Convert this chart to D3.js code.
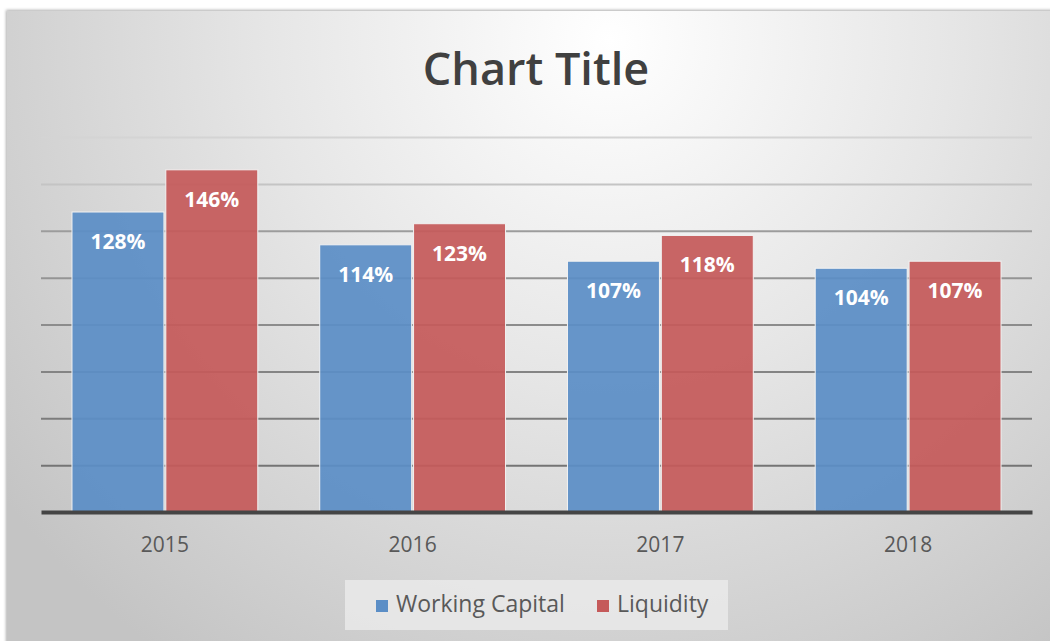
<!DOCTYPE html>
<html>
<head>
<meta charset="utf-8">
<script src="https://d3js.org/d3.v7.min.js"></script>
<style>
  body { margin: 0; background: #fff; }
  svg { display: block; }
</style>
</head>
<body>
<svg width="1050" height="641" id="chart"></svg>
<script>

// chart values
var years = ["2015", "2016", "2017", "2018"];
var seriesNames = ["Working Capital", "Liquidity"];
var workingCapital = [128, 114, 107, 104];
var liquidity = [146, 123, 118, 107];
var gridTicks = [0, 20, 40, 60, 80, 100, 120, 140, 160];

var colors = ["#5b8ec6", "#c55a5a"];

var svg = d3.select("#chart"),
    margin = {top: 137, right: 18, bottom: 129, left: 41},
    width = +svg.attr("width") - margin.left - margin.right,
    height = +svg.attr("height") - margin.top - margin.bottom;

var defs = svg.append("defs");

var bg = defs.append("radialGradient")
    .attr("id", "bg")
    .attr("gradientUnits", "userSpaceOnUse")
    .attr("cx", 610).attr("cy", 40).attr("r", 760);
bg.append("stop").attr("offset", "0%").attr("stop-color", "#ffffff");
bg.append("stop").attr("offset", "45%").attr("stop-color", "#e6e6e6");
bg.append("stop").attr("offset", "100%").attr("stop-color", "#c4c4c4");

var shadow = defs.append("filter").attr("id", "shadow")
    .attr("x", "-5%").attr("y", "-5%").attr("width", "110%").attr("height", "110%");
shadow.append("feDropShadow").attr("dx", -1).attr("dy", -1)
    .attr("stdDeviation", 1.5).attr("flood-color", "#999").attr("flood-opacity", 0.8);

// chart area
svg.append("rect")
    .attr("x", 7).attr("y", 11)
    .attr("width", 1050).attr("height", 641)
    .attr("fill", "url(#bg)")
    .attr("filter", "url(#shadow)");

svg.append("text")
    .attr("x", 536).attr("y", 85)
    .attr("text-anchor", "middle")
    .attr("font-family", "'Open Sans', sans-serif")
    .attr("font-weight", 600)
    .attr("font-size", 45)
    .attr("fill", "#404040")
    .text("Chart Title");

var g = svg.append("g").attr("transform", "translate(" + margin.left + "," + margin.top + ")");

var x0 = d3.scaleBand().domain(years).range([0, width]).paddingInner(0.25).paddingOuter(0.125);
var x1 = d3.scaleBand().domain(seriesNames).range([0, x0.bandwidth()]).paddingInner(0.02);
var y = d3.scaleLinear().domain([0, 160]).range([height, 0]);

// gridlines fade lighter toward the top
var gridColor = d3.scaleLinear()
    .domain([160, 140, 120, 20])
    .range(["#d4d4d4", "#c4c4c4", "#9c9c9c", "#747474"]);

g.append("g")
    .call(d3.axisLeft(y).tickValues(gridTicks.slice(1)).tickSize(-width).tickFormat(""))
    .call(function(s) { s.select(".domain").remove(); })
    .selectAll(".tick line")
    .attr("stroke", function(d) { return gridColor(d); })
    .attr("stroke-width", 2);

var rows = years.map(function(yr, i) {
  return {year: yr, values: [workingCapital[i], liquidity[i]]};
});

var groups = g.selectAll(".grp").data(rows).enter().append("g")
    .attr("transform", function(d) { return "translate(" + x0(d.year) + ",0)"; });

groups.selectAll("rect")
    .data(function(d) { return d.values.map(function(v, j) { return {name: seriesNames[j], value: v, j: j}; }); })
    .enter().append("rect")
    .attr("x", function(d) { return x1(d.name); })
    .attr("y", function(d) { return y(d.value); })
    .attr("width", x1.bandwidth())
    .attr("height", function(d) { return height - y(d.value); })
    .attr("fill", function(d) { return colors[d.j]; })
    .attr("fill-opacity", 0.93)
    .attr("stroke", "#f2f2f2")
    .attr("stroke-width", 1);

groups.selectAll("text")
    .data(function(d) { return d.values.map(function(v, j) { return {name: seriesNames[j], value: v}; }); })
    .enter().append("text")
    .attr("x", function(d) { return x1(d.name) + x1.bandwidth() / 2; })
    .attr("y", function(d) { return y(d.value) + 37; })
    .attr("text-anchor", "middle")
    .attr("font-family", "'Open Sans', sans-serif")
    .attr("font-weight", "bold")
    .attr("font-size", 21)
    .attr("fill", "#ffffff")
    .text(function(d) { return d.value + "%"; });

// baseline + year labels
var xAxis = g.append("g")
    .attr("transform", "translate(0," + height + ")")
    .call(d3.axisBottom(x0).tickSize(0).tickPadding(25));
xAxis.select(".domain").attr("stroke", "#454545").attr("stroke-width", 4);
xAxis.selectAll("text")
    .attr("font-family", "'Open Sans', sans-serif")
    .attr("font-size", 21)
    .attr("fill", "#595959");

// legend
var legend = svg.append("g").attr("transform", "translate(345,580)");
legend.append("rect")
    .attr("width", 383).attr("height", 50)
    .attr("fill", "#ebebeb").attr("fill-opacity", 0.8);

var legendX = [31, 252];
var items = legend.selectAll(".item").data(seriesNames).enter().append("g")
    .attr("transform", function(d, i) { return "translate(" + legendX[i] + ",0)"; });
items.append("rect")
    .attr("x", 0).attr("y", 20)
    .attr("width", 12).attr("height", 12)
    .attr("fill", function(d, i) { return colors[i]; });
items.append("text")
    .attr("x", 20).attr("y", 32)
    .attr("font-family", "'Open Sans', sans-serif")
    .attr("font-size", 23)
    .attr("fill", "#595959")
    .text(function(d) { return d; });

</script>
</body>
</html>
